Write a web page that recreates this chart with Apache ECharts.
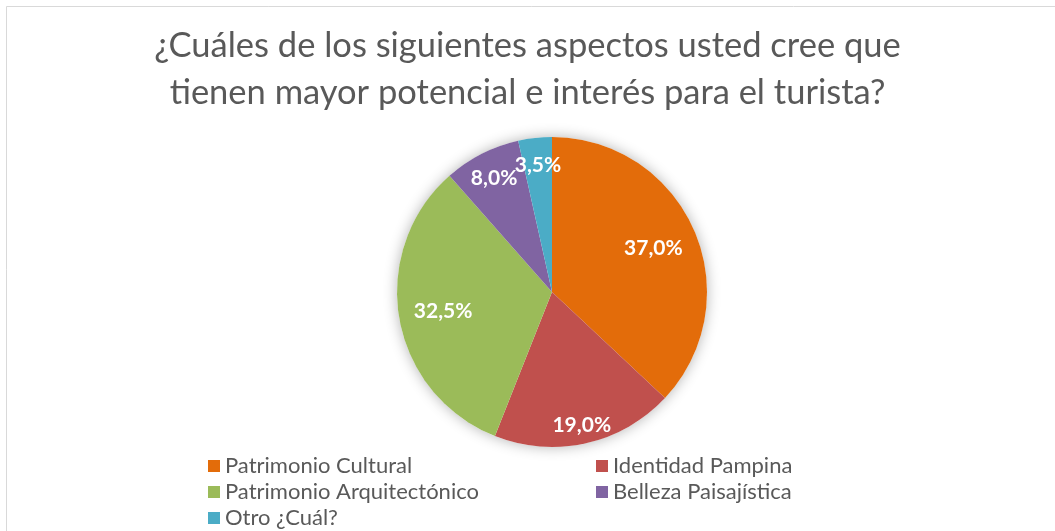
<!DOCTYPE html>
<html>
<head>
<meta charset="utf-8">
<script src="https://cdn.jsdelivr.net/npm/echarts@6/dist/echarts.min.js"></script>
<style>
  html, body { margin: 0; padding: 0; background: #fff; }
  #chartId { width: 1055px; height: 531px; }
</style>
</head>
<body>
<div id="chartId"></div>
<script>
const titleText = "¿Cuáles de los siguientes aspectos usted cree que\ntienen mayor potencial e interés para el turista?";
const categories = [
    "Patrimonio Cultural",
    "Identidad Pampina",
    "Patrimonio Arquitectónico",
    "Belleza Paisajística",
    "Otro ¿Cuál?"
];
const percentages = [37.0, 19.0, 32.5, 8.0, 3.5];

const colors = ["#e36c0a", "#c0504d", "#9bbb59", "#8064a2", "#4bacc6"];

const font = "Lato, 'Open Sans', sans-serif";
const center = [552, 292];
const radius = 155;

var chart = echarts.init(document.getElementById('chartId'));

let pieData = categories.map((name, i) => ({
    name: name,
    value: percentages[i],
    itemStyle: { color: colors[i] }
}));

// each label ring only shows the slices whose value falls in [lo, hi)
// (bigger slices get their label nearer the centre, like excel's best fit)
function labelFor(lo, hi){
    return function(p){
        if(p.value < lo || p.value >= hi) return '';
        return p.value.toFixed(1).replace('.', ',') + '%';
    }
}

function labelRing(inner, lo, hi){
    return {
        type: 'pie',
        center: center,
        radius: [inner, radius],
        silent: true,
        startAngle: 90,
        avoidLabelOverlap: false,
        data: pieData.map(d => ({ name: d.name, value: d.value })),
        itemStyle: { color: 'rgba(0,0,0,0)' },
        label: {
            show: true,
            position: 'inside',
            formatter: labelFor(lo, hi),
            color: '#ffffff',
            fontFamily: font,
            fontWeight: 'bold',
            fontSize: 21
        },
        labelLayout: { hideOverlap: false },
        labelLine: { show: false },
        emphasis: { disabled: true },
        tooltip: { show: false }
    };
}

var option = {
    animation: false,
    backgroundColor: '#ffffff',
    graphic: [{
        type: 'rect',
        shape: { x: 6.5, y: 6.5, width: 1100, height: 600 },
        style: { fill: 'none', stroke: '#d9d9d9', lineWidth: 1 },
        z: -10
    }],
    title: {
        text: titleText,
        left: 'center',
        top: 17,
        textStyle: {
            fontFamily: font,
            fontWeight: 'normal',
            fontSize: 34.5,
            color: '#595959',
            lineHeight: 47
        }
    },
    legend: {
        data: categories,
        left: 208,
        top: 453,
        padding: 0,
        width: 800,
        orient: 'horizontal',
        itemWidth: 12,
        itemHeight: 12,
        itemGap: 0,
        icon: 'rect',
        textStyle: {
            fontFamily: font,
            fontSize: 22,
            color: '#595959',
            width: 371,
            lineHeight: 26
        }
    },
    series: [
        // soft glow behind the whole pie
        {
            type: 'pie',
            center: center,
            radius: [0, radius],
            silent: true,
            data: [{ value: 1, name: '' }],
            itemStyle: {
                color: '#ffffff',
                shadowBlur: 14,
                shadowColor: 'rgba(0,0,0,0.30)'
            },
            label: { show: false },
            labelLine: { show: false },
            emphasis: { disabled: true },
            legendHoverLink: false
        },
        {
            type: 'pie',
            center: center,
            radius: [0, radius],
            startAngle: 90,
            data: pieData,
            itemStyle: { borderWidth: 0 },
            label: { show: false },
            labelLine: { show: false }
        },
        labelRing(60, 30, 101),
        labelRing(112, 10, 30),
        labelRing(94, 0, 10)
    ]
};

chart.setOption(option);
</script>
</body>
</html>
